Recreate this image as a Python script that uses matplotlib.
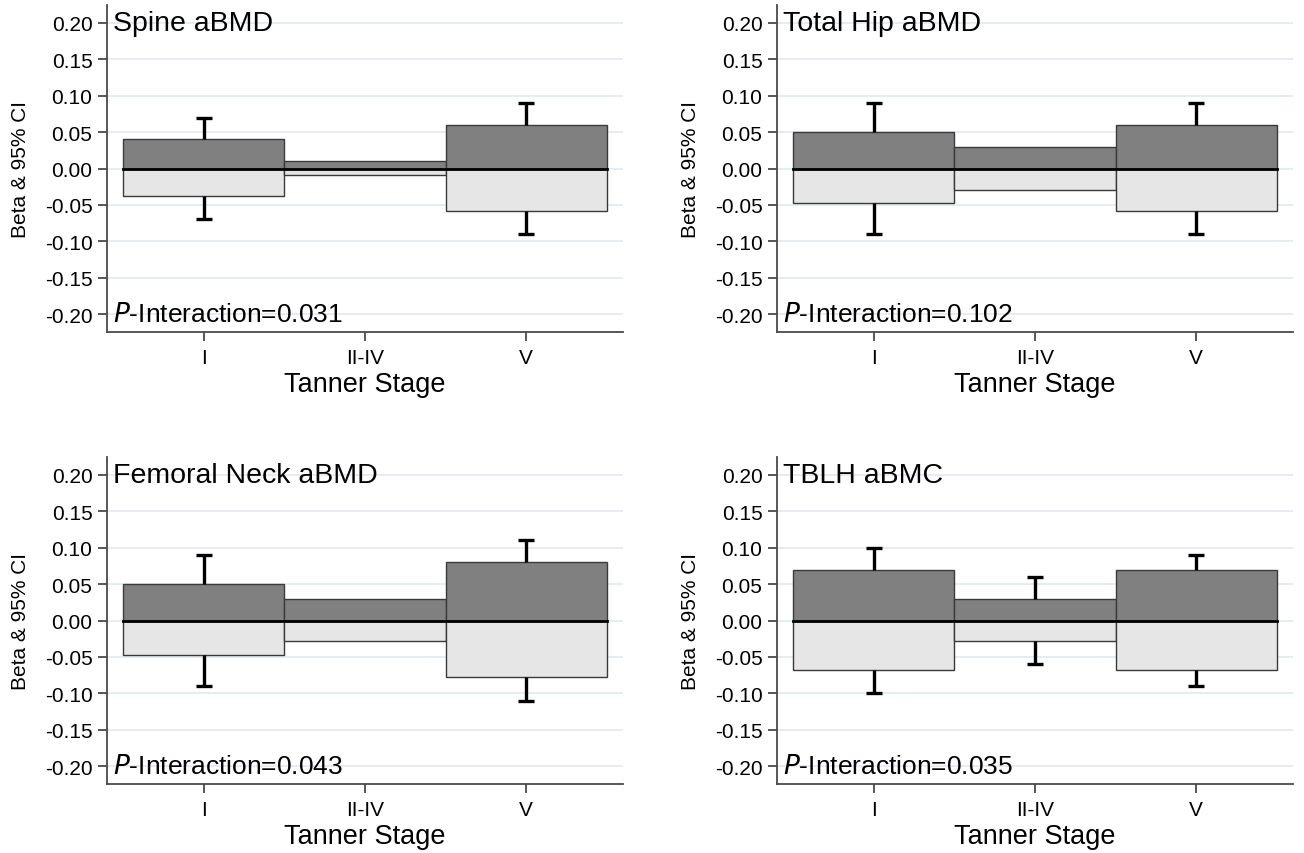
import numpy as np
import matplotlib
matplotlib.use("Agg")
import matplotlib.pyplot as plt

plt.rcParams['font.family'] = ['Liberation Sans', 'DejaVu Sans']

# Tanner stage categories
stages = ["I", "II-IV", "V"]
yticks = [0.20, 0.15, 0.10, 0.05, 0.00, -0.05, -0.10, -0.15, -0.20]

# panel titles and interaction p values
titles = ["Spine aBMD", "Total Hip aBMD", "Femoral Neck aBMD", "TBLH aBMC"]
p_values = ["0.031", "0.102", "0.043", "0.035"]

# upper (dark) and lower (light) bars
bar_up = [[0.04, 0.01, 0.06],
          [0.05, 0.03, 0.06],
          [0.05, 0.03, 0.08],
          [0.07, 0.03, 0.07]]
bar_low = [[-0.038, -0.009, -0.058],
           [-0.048, -0.029, -0.058],
           [-0.048, -0.028, -0.078],
           [-0.068, -0.028, -0.068]]
# 95% CI ends (nan = no whisker drawn)
ci_up = [[0.07, np.nan, 0.09],
         [0.09, np.nan, 0.09],
         [0.09, np.nan, 0.11],
         [0.10, 0.06, 0.09]]
ci_low = [[-0.07, np.nan, -0.09],
          [-0.09, np.nan, -0.09],
          [-0.09, np.nan, -0.11],
          [-0.10, -0.06, -0.09]]

W, H = 1304, 854
fig = plt.figure(figsize=(W / 100, H / 100), dpi=100)

# axes boxes in pixels: left, top, right, bottom
boxes = [(107, 6, 623, 333), (777, 6, 1293, 333),
         (107, 458, 623, 785), (777, 458, 1293, 785)]

dark = "#808080"
light = "#e6e6e6"
edge = "#3a3a3a"
axcol = "#4a4a4a"

for i in range(4):
    l, t, r, b = boxes[i]
    ax = fig.add_axes([l / W, 1 - b / H, (r - l) / W, (b - t) / H])
    x = np.arange(1, len(stages) + 1)

    for y in yticks:
        ax.axhline(y, color="#e3ecf0", lw=1.3, zorder=0)

    ax.bar(x, bar_up[i], width=1.0, color=dark, edgecolor=edge, linewidth=1.0, zorder=2)
    ax.bar(x, bar_low[i], width=1.0, color=light, edgecolor=edge, linewidth=1.0, zorder=2)

    for j in range(len(stages)):
        if not np.isnan(ci_up[i][j]):
            ax.plot([x[j], x[j]], [bar_up[i][j], ci_up[i][j]], color="black", lw=2.4, zorder=3,
                    solid_capstyle="butt")
            ax.plot(x[j], ci_up[i][j], marker="_", ms=11, mew=2.4, color="black", zorder=3)
        if not np.isnan(ci_low[i][j]):
            ax.plot([x[j], x[j]], [bar_low[i][j], ci_low[i][j]], color="black", lw=2.4, zorder=3,
                    solid_capstyle="butt")
            ax.plot(x[j], ci_low[i][j], marker="_", ms=11, mew=2.4, color="black", zorder=3)

    # zero line across the bars
    ax.plot([x[0] - 0.5, x[-1] + 0.5], [0, 0], color="black", lw=2.0, zorder=4)

    ax.set_xlim(0.4, 3.6)
    ax.set_ylim(-0.2245, 0.2245)
    ax.set_xticks(x)
    ax.set_xticklabels(stages)
    ax.set_yticks(yticks)
    ax.set_yticklabels(["%.2f" % v for v in yticks])

    for s in ["top", "right"]:
        ax.spines[s].set_visible(False)
    for s in ["left", "bottom"]:
        ax.spines[s].set_color(axcol)
        ax.spines[s].set_linewidth(1.3)
    ax.tick_params(axis="both", length=6.5, width=1.3, color=axcol, labelsize=15)
    ax.tick_params(axis="y", pad=4)
    ax.tick_params(axis="x", pad=5)

    ax.set_ylabel("Beta & 95% CI", fontsize=15)
    ax.yaxis.set_label_coords(-0.15, 0.5)
    ax.set_xlabel("Tanner Stage", fontsize=19.5)
    ax.xaxis.set_label_coords(0.5, -0.12)

    ax.text(0.44, 0.20, titles[i], fontsize=20.5, va="center", ha="left", zorder=5)
    ax.text(0.44, -0.20, "$\\it{P}$-Interaction=" + p_values[i], fontsize=19,
            va="center", ha="left", zorder=5)

fig.savefig("out.png", dpi=100, facecolor="white")
